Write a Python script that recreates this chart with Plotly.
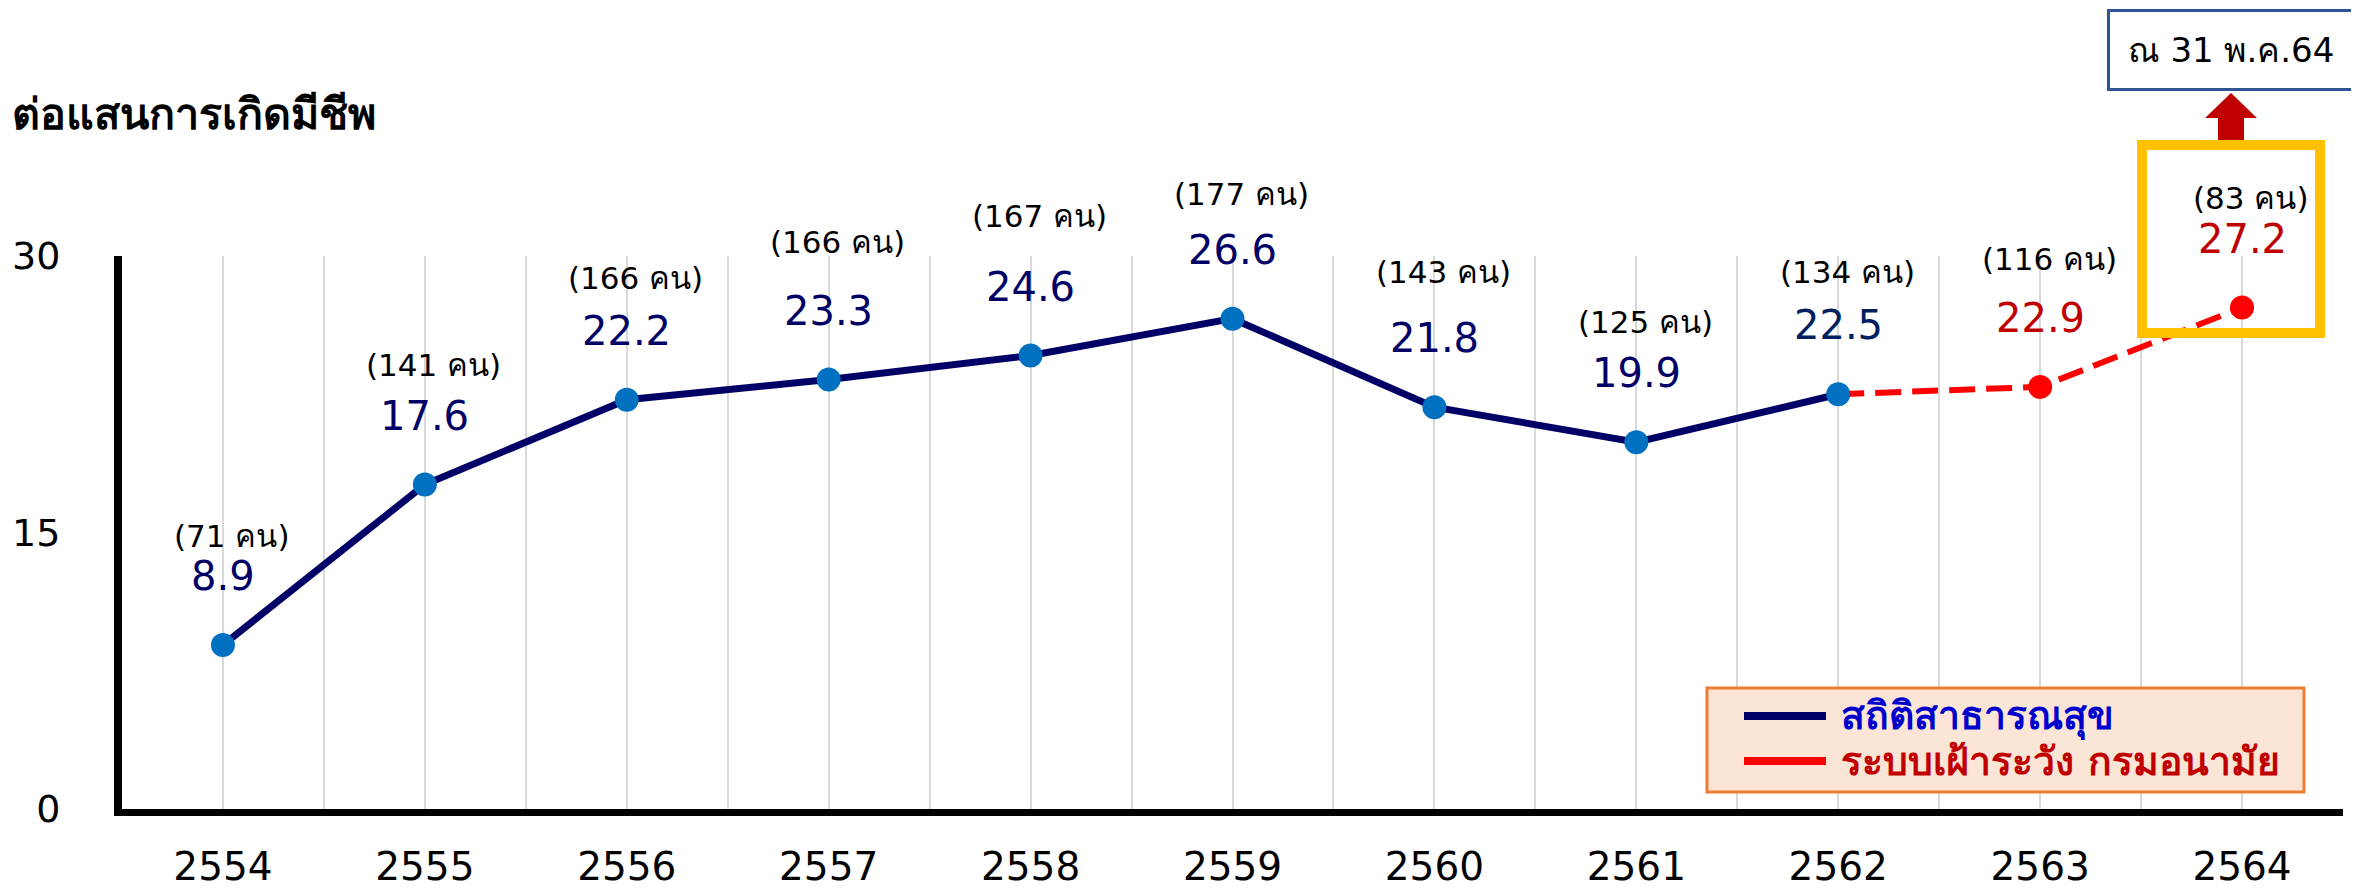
import plotly.graph_objects as go

# ---------------- data ----------------
years = [2554, 2555, 2556, 2557, 2558, 2559, 2560, 2561, 2562, 2563, 2564]
rate_moph = [8.9, 17.6, 22.2, 23.3, 24.6, 26.6, 21.8, 19.9, 22.5]          # สถิติสาธารณสุข (2554-2562)
years_surv = [2562, 2563, 2564]
rate_surv = [22.5, 22.9, 27.2]                                            # ระบบเฝ้าระวัง กรมอนามัย
deaths = [71, 141, 166, 166, 167, 177, 143, 125, 134, 116, 83]
y_ticks = [0, 15, 30]
legend_names = ["สถิติสาธารณสุข", "ระบบเฝ้าระวัง กรมอนามัย"]
title_text = "ต่อแสนการเกิดมีชีพ"
note_text = "ณ 31 พ.ค.64"

# ---------------- layout constants ----------------
W, H = 2359, 888
OFF = 8                      # page body margin of the html page (screen = figure + OFF)
# target screen positions of the plot area
SX0, SX1, SY0, SY1 = 122, 2343, 256, 809
L, R = SX0 - OFF, W - (SX1 - OFF)
T, B = SY0 - OFF, H - (SY1 - OFF)
PW, PH = W - L - R, H - T - B
FONT = "Tahoma, DejaVu Sans, Noto Sans, sans-serif"
NAVY = "#000066"
MARK_BLUE = "#0070C0"
RED = "#FF0000"
DARK_RED = "#C00000"

# extra lift (px) of the "(n คน)" labels above each point (manual placement in original)
count_lift = [109, 120, 122, 138, 140, 125, 135, 120, 122, 128, 110]
value_lift = 69


def px(xs):
    """screen x pixel -> paper fraction"""
    return (xs - SX0) / PW


def py(ys):
    """screen y pixel -> paper fraction"""
    return (SY1 - ys) / PH


fig = go.Figure()

fig.add_trace(go.Scatter(
    x=years_surv, y=rate_surv, mode="lines",
    line=dict(color=RED, width=6, dash="26px,11px"),
    hoverinfo="skip", showlegend=False, cliponaxis=False))
fig.add_trace(go.Scatter(
    x=years_surv[1:], y=rate_surv[1:], mode="markers",
    marker=dict(color=RED, size=24), showlegend=False, cliponaxis=False))
fig.add_trace(go.Scatter(
    x=years[:len(rate_moph)], y=rate_moph, mode="lines+markers",
    line=dict(color=NAVY, width=7),
    marker=dict(color=MARK_BLUE, size=24), showlegend=False, cliponaxis=False))

all_vals = rate_moph + rate_surv[1:]
annotations = []
for i, (yr, v, n) in enumerate(zip(years, all_vals, deaths)):
    if i >= len(rate_moph):
        vcol = DARK_RED
    elif i == len(rate_moph) - 1:
        vcol = "#002060"
    else:
        vcol = NAVY
    annotations.append(dict(x=yr, y=v, xref="x", yref="y", text=f"{v:.1f}",
                            showarrow=False, yshift=value_lift, yanchor="middle",
                            font=dict(family=FONT, size=40, color=vcol)))
    annotations.append(dict(x=yr, y=v, xref="x", yref="y", text=f"({n} คน)",
                            showarrow=False, yshift=count_lift[i], xshift=9,
                            yanchor="middle",
                            font=dict(family=FONT, size=31, color="black")))

# title at the top-left
annotations.append(dict(x=px(10), y=py(114), xref="paper", yref="paper",
                        xanchor="left", yanchor="middle", showarrow=False,
                        text=f"<b>{title_text}</b>",
                        font=dict(family=FONT, size=43, color="black")))
# note box
annotations.append(dict(x=px(2231), y=py(50), xref="paper", yref="paper",
                        xanchor="center", yanchor="middle", showarrow=False,
                        text=note_text, width=240, height=74, borderpad=1,
                        bgcolor="white", bordercolor="#2F5597", borderwidth=3,
                        font=dict(family=FONT, size=34, color="black")))
# legend texts
annotations.append(dict(x=px(1839), y=py(716), xref="paper", yref="paper",
                        xanchor="left", yanchor="middle", showarrow=False,
                        text=f"<b>{legend_names[0]}</b>",
                        font=dict(family=FONT, size=39, color="#0000CC")))
annotations.append(dict(x=px(1839), y=py(761), xref="paper", yref="paper",
                        xanchor="left", yanchor="middle", showarrow=False,
                        text=f"<b>{legend_names[1]}</b>",
                        font=dict(family=FONT, size=39, color=DARK_RED)))

shapes = []
# upward arrow
ax = 2231
arrow_path = (f"M {px(ax)},{py(93)} L {px(ax+26)},{py(118)} L {px(ax+13)},{py(118)} "
              f"L {px(ax+13)},{py(150)} L {px(ax-13)},{py(150)} L {px(ax-13)},{py(118)} "
              f"L {px(ax-26)},{py(118)} Z")
shapes.append(dict(type="path", path=arrow_path, xref="paper", yref="paper",
                   fillcolor=DARK_RED, line=dict(width=0)))
# highlight box
shapes.append(dict(type="rect", xref="paper", yref="paper",
                   x0=px(2142), x1=px(2320), y0=py(145), y1=py(333),
                   line=dict(color="#FFC000", width=10)))
# legend box
shapes.append(dict(type="rect", xref="paper", yref="paper",
                   x0=px(1707), x1=px(2304), y0=py(688), y1=py(792),
                   fillcolor="#FBE5D6", line=dict(color="#ED7D31", width=3)))
shapes.append(dict(type="line", xref="paper", yref="paper",
                   x0=px(1744), x1=px(1826), y0=py(716), y1=py(716),
                   line=dict(color=NAVY, width=8)))
shapes.append(dict(type="line", xref="paper", yref="paper",
                   x0=px(1744), x1=px(1826), y0=py(761), y1=py(761),
                   line=dict(color=RED, width=8)))

fig.update_layout(
    width=W, height=H,
    margin=dict(l=L, r=R, t=T, b=B, pad=0, autoexpand=False),
    paper_bgcolor="white", plot_bgcolor="white",
    font=dict(family=FONT, color="black"),
    annotations=annotations, shapes=shapes,
    showlegend=False,
    xaxis=dict(range=[years[0] - 0.5, years[-1] + 0.5],
               tickvals=years, ticktext=[str(y) for y in years],
               showgrid=True, gridcolor="#D9D9D9", gridwidth=2,
               minor=dict(dtick=0.5, tick0=years[0] - 0.5, showgrid=True,
                          gridcolor="#D9D9D9", gridwidth=2),
               showline=True, linecolor="black", linewidth=7,
               ticks="", zeroline=False, ticklabelstandoff=17, automargin=False,
               tickfont=dict(family=FONT, size=39, color="black")),
    yaxis=dict(range=[0, 30], tickvals=y_ticks,
               showgrid=False, zeroline=False,
               showline=True, linecolor="black", linewidth=8,
               ticks="", ticklabelstandoff=46, automargin=False,
               tickfont=dict(family=FONT, size=38, color="black")),
)

fig.write_html("out.html")
